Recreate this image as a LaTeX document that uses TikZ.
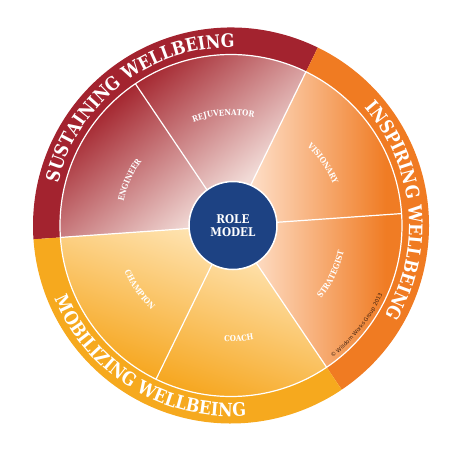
\documentclass[tikz,border=0pt]{standalone}
\usepackage{fontspec}
\setmainfont{DejaVu Serif}
\newfontfamily\slabfont[FakeStretch=0.87]{DejaVu Serif}
\newfontfamily\notefont{DejaVu Sans}
\usetikzlibrary{decorations.text}
\definecolor{bandred}{HTML}{A3232F}
\definecolor{bandorange}{HTML}{F07B22}
\definecolor{bandyellow}{HTML}{F6A91E}
\definecolor{hubblue}{HTML}{1D4283}
\definecolor{redlight}{HTML}{F1DAD6}
\definecolor{reddark}{HTML}{A4262F}
\definecolor{orangelight}{HTML}{FEE0CA}
\definecolor{orangedark}{HTML}{F07C24}
\definecolor{yellowlight}{HTML}{FFE6B8}
\definecolor{yellowdark}{HTML}{F6A61E}
\definecolor{notebrown}{HTML}{3E2010}
\begin{document}
\begin{tikzpicture}[x=1pt,y=1pt,
  bandtext/.style={decorate,decoration={text along path,text align=center,
     text={|\slabfont\bfseries\fontsize{18.5}{18.5}\selectfont\color{white}|#1}}},
  wedgetext/.style={decorate,decoration={text along path,text align=center,
     text={|\slabfont\bfseries\fontsize{8.2}{8.2}\selectfont\color{white}|#1}}},
  notetext/.style={decorate,decoration={text along path,text align=center,
     text={|\notefont\fontsize{5.4}{5.4}\selectfont\color{notebrown}|#1}}},
  divider/.style={white,line width=1.2pt},
  hubstyle/.style={circle,fill=hubblue,draw=white,line width=1.5pt,minimum size=88pt,
     inner sep=0pt,text=white,align=center,font=\slabfont\bfseries\fontsize{12}{13}\selectfont}
]
\useasboundingbox (-231,-241.5) rectangle (236,225.5);
% outer bands
\fill[bandred] (0,0) -- (64:198) arc[start angle=64,end angle=184,radius=198] -- cycle;
\fill[bandorange] (0,0) -- (-56:198) arc[start angle=-56,end angle=64,radius=198] -- cycle;
\fill[bandyellow] (0,0) -- (184:198) arc[start angle=184,end angle=304,radius=198] -- cycle;
% red wedges
\begin{scope}
 \clip (0,0) -- (64:171) arc[start angle=64,end angle=184,radius=171] -- cycle;
 \fill[redlight] (-180,-180) rectangle (180,180);
 \begin{scope}[transform canvas={rotate=-50}]
   \shade[left color=reddark,right color=redlight] (-172,-260) rectangle (-25,260);
 \end{scope}
\end{scope}
% orange wedges
\begin{scope}
 \clip (0,0) -- (-56:171) arc[start angle=-56,end angle=64,radius=171] -- cycle;
 \fill[orangedark] (-10,-180) rectangle (180,180);
 \shade[left color=orangelight,right color=orangedark] (18,-180) rectangle (155,180);
 \fill[orangelight] (-10,-180) rectangle (18,180);
\end{scope}
% yellow wedges
\begin{scope}
 \clip (0,0) -- (184:171) arc[start angle=184,end angle=304,radius=171] -- cycle;
 \fill[yellowlight] (-180,-180) rectangle (180,180);
 \begin{scope}[transform canvas={rotate=-110}]
   \shade[left color=yellowlight,right color=yellowdark] (10,-260) rectangle (172,260);
 \end{scope}
\end{scope}
% white lines
\draw[divider] (0,0) circle[radius=171];
\foreach \a in {4,64,124,184,244,304} \draw[divider] (\a:40) -- (\a:171);
% hub
\node[hubstyle] (hub) at (2,0) {ROLE\\MODEL};
% band texts
\path[bandtext={SUSTAINING WELLBEING}] (177.5:178) arc[start angle=177.5,end angle=77.5,radius=178];
\path[bandtext={INSPIRING WELLBEING}] (55.5:178) arc[start angle=55.5,end angle=-44.5,radius=178];
\path[bandtext={MOBILIZING WELLBEING}] (188.6:191) arc[start angle=188.6,end angle=288.6,radius=191];
% wedge labels
\path[wedgetext={REJUVENATOR}] (134:110) arc[start angle=134,end angle=54,radius=110];
\path[wedgetext={ENGINEER}] (196:110) arc[start angle=196,end angle=116,radius=110];
\path[wedgetext={VISIONARY}] (74:110) arc[start angle=74,end angle=-6,radius=110];
\path[wedgetext={STRATEGIST}] (-66:116) arc[start angle=-66,end angle=14,radius=116];
\path[wedgetext={COACH}] (234:116) arc[start angle=234,end angle=314,radius=116];
\path[wedgetext={CHAMPION}] (175:116) arc[start angle=175,end angle=255,radius=116];
% copyright
\path[notetext={© Wisdom Works Group 2013}] (-78.5:166.5) arc[start angle=-78.5,end angle=1.5,radius=166.5];
\end{tikzpicture}
\end{document}
